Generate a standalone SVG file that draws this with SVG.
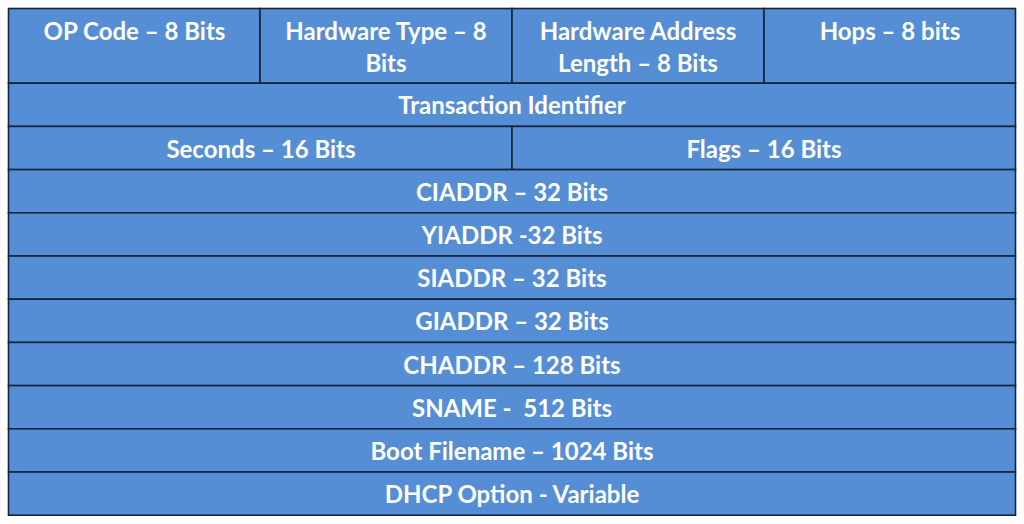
<svg xmlns="http://www.w3.org/2000/svg" width="1024" height="524" viewBox="0 0 1024 524">
<style>
.c{fill:#558ed5;stroke:#14243a;stroke-width:1.6}
.t{font-family:Lato,"Open Sans","Liberation Sans",sans-serif;font-weight:bold;font-size:24px;fill:#ffffff;text-anchor:middle;white-space:pre}
</style>
<rect x="0" y="0" width="1024" height="524" fill="#ffffff"/>
<g id="op"><rect class="c" x="8.5" y="8.5" width="251.5" height="74.7"/><text class="t" x="134.5" y="39.5">OP Code – 8 Bits</text></g>
<g id="hwtype"><rect class="c" x="260" y="8.5" width="252" height="74.7"/><text class="t" x="386" y="39.5">Hardware Type – 8</text><text class="t" x="386" y="71.5">Bits</text></g>
<g id="hwlen"><rect class="c" x="512" y="8.5" width="252" height="74.7"/><text class="t" x="638" y="39.5">Hardware Address</text><text class="t" x="638" y="71.5">Length – 8 Bits</text></g>
<g id="hops"><rect class="c" x="764" y="8.5" width="251.5" height="74.7"/><text class="t" x="890" y="39.5">Hops – 8 bits</text></g>
<g id="xid"><rect class="c" x="8.5" y="83.2" width="1007" height="43.2"/><text class="t" x="512" y="113.5">Transaction Identifier</text></g>
<g id="secs"><rect class="c" x="8.5" y="126.4" width="503.5" height="43.2"/><text class="t" x="261" y="157.5">Seconds – 16 Bits</text></g>
<g id="flags"><rect class="c" x="512" y="126.4" width="503.5" height="43.2"/><text class="t" x="764" y="157.5">Flags – 16 Bits</text></g>
<g id="ciaddr"><rect class="c" x="8.5" y="169.6" width="1007" height="43.2"/><text class="t" x="512" y="200.5">CIADDR – 32 Bits</text></g>
<g id="yiaddr"><rect class="c" x="8.5" y="212.8" width="1007" height="43.2"/><text class="t" x="512" y="243.5">YIADDR -32 Bits</text></g>
<g id="siaddr"><rect class="c" x="8.5" y="256" width="1007" height="43.2"/><text class="t" x="512" y="286.5">SIADDR – 32 Bits</text></g>
<g id="giaddr"><rect class="c" x="8.5" y="299.2" width="1007" height="43.2"/><text class="t" x="512" y="329.5">GIADDR – 32 Bits</text></g>
<g id="chaddr"><rect class="c" x="8.5" y="342.4" width="1007" height="43.2"/><text class="t" x="512" y="373.5">CHADDR – 128 Bits</text></g>
<g id="sname"><rect class="c" x="8.5" y="385.6" width="1007" height="43.2"/><text class="t" x="512" y="416.5">SNAME -  512 Bits</text></g>
<g id="file"><rect class="c" x="8.5" y="428.8" width="1007" height="43.2"/><text class="t" x="512" y="459.5">Boot Filename – 1024 Bits</text></g>
<g id="options"><rect class="c" x="8.5" y="472" width="1007" height="43.2"/><text class="t" x="512" y="502.5">DHCP Option - Variable</text></g>
<g id="connectors"/>
</svg>
